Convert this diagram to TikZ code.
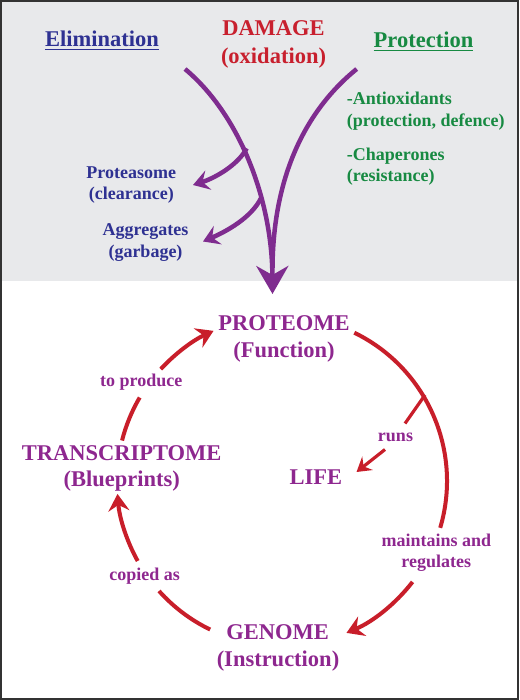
\documentclass[tikz,border=0pt]{standalone}
\usepackage{fontspec}
\setmainfont{Liberation Serif}
\usetikzlibrary{arrows.meta,calc}
\definecolor{navy}{HTML}{2E3192}
\definecolor{dgreen}{HTML}{178A42}
\definecolor{dred}{HTML}{C8202E}
\definecolor{ptext}{HTML}{8E278F}
\definecolor{parrow}{HTML}{7F2C8F}
\definecolor{rarrow}{HTML}{C81E2A}
\definecolor{bgray}{HTML}{E8E9EB}
\begin{document}
\begin{tikzpicture}[x=1pt,y=-1pt,
  big/.style={font=\bfseries\fontsize{22.5}{26}\selectfont, inner sep=0pt, anchor=base},
  small/.style={font=\bfseries\fontsize{18}{21}\selectfont, inner sep=0pt, anchor=base},
  parr/.style={draw=parrow, line width=4.5pt},
  rarr/.style={draw=rarrow, line width=4pt},
  bighead/.style={-{Stealth[length=28pt,width=32pt,inset=9pt]}},
  phead/.style={-{Stealth[length=16pt,width=20pt,inset=6pt]}},
  rhead/.style={-{Stealth[length=17pt,width=21pt,inset=6pt]}},
  shead/.style={-{Stealth[length=14pt,width=17pt,inset=5pt]}}]
\useasboundingbox (0,0) rectangle (519,700);
\fill[bgray] (0,0) rectangle (519,281);
\draw[line width=1.6pt, draw=black!80] (0.8,0.8) rectangle (518,699);

% top texts
\node[big, text=navy] (elim) at (102,46.7) {Elimination};
\draw[navy, line width=1.6pt] ($(elim.base west)+(0,3)$) coordinate (u1) -- ($(elim.base east)+(0,3)$) coordinate (u2);
\node[big, text=dred] (dmg) at (273.5,36) {DAMAGE};
\node[big, text=dred] (oxi) at (273.5,63.3) {(oxidation)};
\node[big, text=dgreen] (prot) at (423.5,47.7) {Protection};
\draw[dgreen, line width=1.6pt] ($(prot.base west)+(0,3)$) coordinate (u3) -- ($(prot.base east)+(0,3)$) coordinate (u4);

\node[small, text=dgreen, anchor=base west] (anti) at (346.7,105) {-Antioxidants};
\node[small, text=dgreen, anchor=base west] (anti2) at (346.7,126.7) {(protection, defence)};
\node[small, text=dgreen, anchor=base west] (chap) at (346.7,160.7) {-Chaperones};
\node[small, text=dgreen, anchor=base west] (chap2) at (346.7,181.7) {(resistance)};

\node[small, text=navy] (prt) at (131.3,178.3) {Proteasome};
\node[small, text=navy] (prt2) at (131.3,200) {(clearance)};
\node[small, text=navy] (agg) at (145.5,235.7) {Aggregates};
\node[small, text=navy] (agg2) at (145.5,257.7) {(garbage)};

% purple arrows
\coordinate (ls) at (185,69);
\coordinate (rs) at (356.7,69);
\coordinate (tip) at (272.5,294);
\coordinate (mrg) at (272.5,268);
\coordinate (b1) at (246.7,148.3);
\coordinate (b1t) at (193,185);
\coordinate (b2) at (261.7,196.7);
\coordinate (b2t) at (203,241.5);
\draw[parr] (rs) .. controls (300,115) and (273,185) .. (mrg);
\draw[parr, bighead] (ls) .. controls (240,115) and (272,200) .. (tip);
\draw[parr, phead] (b1) .. controls (238,165) and (215,178) .. (b1t);
\draw[parr, phead] (b2) .. controls (252,218) and (225,232) .. (b2t);

% lower texts
\node[big, text=ptext] (pro) at (284,330) {PROTEOME};
\node[big, text=ptext] (pro2) at (284,357.3) {(Function)};
\node[small, text=ptext] (prod) at (141.3,386.5) {to produce};
\node[big, text=ptext] (tr) at (121.7,460) {TRANSCRIPTOME};
\node[big, text=ptext] (tr2) at (121.7,486.7) {(Blueprints)};
\node[small, text=ptext] (runs) at (395.5,441) {runs};
\node[big, text=ptext] (life) at (315.8,484) {LIFE};
\node[small, text=ptext] (mnt) at (436.3,546.7) {maintains and};
\node[small, text=ptext] (mnt2) at (436.3,567.3) {regulates};
\node[small, text=ptext] (cop) at (144.7,580) {copied as};
\node[big, text=ptext] (gen) at (277.5,639.3) {GENOME};
\node[big, text=ptext] (gen2) at (278,666.7) {(Instruction)};

% red circle
\coordinate (C) at (282,481);
\draw[rarr] ($(C)+(-64:165)$) arc[start angle=-64, end angle=16.5, radius=165];
\draw[rarr, rhead] ($(C)+(37.7:165)$) arc[start angle=37.7, end angle=67, radius=165];
\draw[rarr] ($(C)+(115.8:165)$) arc[start angle=115.8, end angle=138.2, radius=165];
\draw[rarr, rhead] ($(C)+(151:165)$) arc[start angle=151, end angle=175.5, radius=165];
\draw[rarr] ($(C)+(194.2:165)$) arc[start angle=194.2, end angle=210.4, radius=165];
\draw[rarr, rhead] ($(C)+(222.7:165)$) arc[start angle=222.7, end angle=245.5, radius=165];
% runs
\coordinate (r1) at (425,395);
\coordinate (r2) at (405,423.5);
\coordinate (r3) at (385,449.5);
\coordinate (r4) at (356.5,472);
\draw[rarr, line width=3.2pt] (r1) -- (r2);
\draw[rarr, line width=3.2pt, shead] (r3) -- (r4);
\end{tikzpicture}
\end{document}
